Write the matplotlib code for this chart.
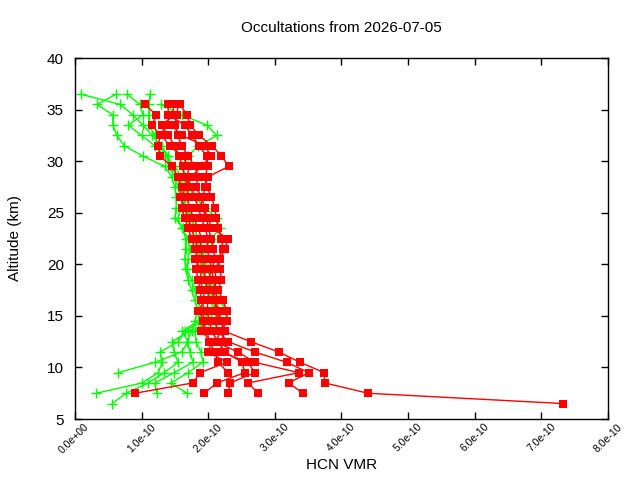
import numpy as np
import matplotlib
matplotlib.use("Agg")
import matplotlib.pyplot as plt
from matplotlib.ticker import FuncFormatter
from matplotlib.transforms import ScaledTranslation

plt.rcParams['font.family'] = ['Liberation Sans', 'DejaVu Sans']

nan = np.nan
# Altitudes (km) for green profiles (36.5 -> 6.5) and red profiles (35.5 -> 6.5)
alt_green = np.arange(36.5, 6.0, -1.0)
alt_red = np.arange(35.5, 6.0, -1.0)

# HCN VMR values in units of 1e-10
green_1 = [0.09, 0.68, 0.87, 1.02, 1.16, 1.30, 1.40,
           1.45, 1.55, 1.60, 1.62, 1.65, 1.70, 1.75, 1.80, 1.85, 1.88, 1.90, 1.95, 2.00, 2.05, 2.10, 2.00,
           1.80, 1.82, 1.89, 1.92, 1.70, 1.44, 1.68, nan]
green_2 = [0.62, 0.33, 0.57, 0.57, 0.63, 0.74, 1.02,
           1.35, 1.45, 1.50, 1.52, 1.52, 1.50, 1.62, 1.66, 1.66, 1.65, 1.66, 1.70, 1.75, 1.80, 1.85, 1.80,
           1.75, 1.68, 1.73, 1.77, 1.49, 1.20, 1.23, nan]
green_3 = [0.78, 0.98, 1.02, 0.80, 1.00, 1.20, 1.35,
           1.50, 1.60, 1.70, 1.80, 1.95, 2.13, 2.18, 2.05, 1.95, 1.90, 1.92, 1.95, 2.05, 2.20, 2.25, 2.10,
           1.70, 1.46, 1.49, 1.55, 1.34, 1.10, 0.77, 0.56]
green_4 = [1.13, 1.11, 1.11, 1.11, 1.20, 1.25, 1.40,
           1.40, 1.50, 1.55, 1.60, 1.70, 1.75, 1.80, 1.85, 1.90, 1.95, 2.00, 2.05, 2.10, 2.15, 2.05, 1.90,
           1.65, 1.55, 1.28, 1.31, 1.25, 1.01, 0.32, nan]
green_5 = [nan, 1.29, 1.60, 1.98, 2.13, 1.85, 1.70,
           1.60, 1.65, 1.68, 1.70, 1.60, 1.55, 1.60, 1.70, 1.72, 1.70, 1.68, 1.75, 1.80, 1.85, 1.90, 1.85,
           1.61, 1.70, 1.60, 1.20, 0.65, nan, nan, nan]

red_1 = [1.50, 1.45, 1.35, 1.30, 1.42, 1.60,
         1.72, 1.68, 1.75, 1.80, 1.85, 1.90, 1.95, 2.00, 1.98, 2.02, 2.05, 2.00, 2.05, 2.10, 2.15, 2.20,
         2.25, 2.64, 3.06, 3.38, 3.74, 3.75, 4.40, 7.33]
red_2 = [1.05, 1.22, 1.16, 1.28, 1.25, 1.28,
         1.45, 1.55, 1.60, 1.58, 1.65, 1.70, 1.75, 1.80, 1.85, 1.80, 1.90, 1.88, 1.92, 1.95, 1.85, 1.95,
         1.90, 2.05, 2.00, 2.28, 1.88, 1.77, 0.90, nan]
red_3 = [1.55, 1.53, 1.50, 1.55, 1.60, 1.70,
         1.80, 1.85, 1.82, 1.90, 1.95, 1.98, 2.00, 2.05, 2.08, 2.10, 2.05, 2.08, 2.12, 2.05, 2.20, 2.10,
         2.15, 2.30, 2.70, 3.18, 3.51, 3.21, 3.42, nan]
red_4 = [1.40, 1.40, 1.65, 1.76, 1.86, 1.98,
         2.00, 1.95, 1.98, 2.05, 2.10, 2.12, 2.15, 2.20, 2.22, 2.15, 2.18, 2.20, 2.15, 2.22, 2.28, 2.28,
         2.20, 2.10, 2.45, 2.70, 3.36, 2.60, 2.75, nan]
red_5 = [1.58, 1.68, 1.73, 1.86, 2.06, 2.20,
         2.31, 2.00, 1.95, 1.92, 1.88, 2.00, 2.05, 2.30, 2.25, 2.18, 2.10, 2.12, 2.10, 2.15, 2.08, 2.18,
         2.25, 2.20, 2.20, 2.60, 2.70, 2.33, 2.30, nan]
red_6 = [nan, 1.50, 1.30, 1.40, 1.50, 1.56,
         1.62, 1.65, 1.70, 1.68, 1.72, 1.78, 1.85, 1.90, 1.88, 1.92, 1.95, 1.95, 2.00, 2.00, 1.98, 2.02,
         2.05, 2.15, 2.25, 2.51, 2.55, 2.13, 1.94, nan]
red_7 = [nan, nan, 1.45, 1.60, 1.95, 2.04,
         1.90, 1.75, 1.65, 1.62, 1.60, 1.65, 1.70, 1.75, 1.80, 1.85, 1.82, 1.85, 1.88, 1.90, 1.95, 1.92,
         1.98, 2.02, 2.10, 2.15, 2.30, nan, nan, nan]

greens = [green_1, green_2, green_3, green_4, green_5]
reds = [red_1, red_2, red_3, red_4, red_5, red_6, red_7]

x_ticks = np.arange(0, 9) * 1e-10
y_ticks = np.arange(5, 41, 5)

fig = plt.figure(figsize=(6.4, 4.8), dpi=100)
ax = fig.add_axes([0.117, 0.127, 0.833, 0.752])

for g in greens:
    ax.plot(np.array(g) * 1e-10, alt_green, color='#00ff00', lw=1.0,
            marker='+', markersize=7, markeredgewidth=1.0)
for r in reds:
    ax.plot(np.array(r) * 1e-10, alt_red, color='#ff0000', lw=1.0,
            marker='s', markersize=6.2, markeredgewidth=0, markerfacecolor='#ff0000')

ax.set_xlim(0, 8e-10)
ax.set_ylim(5, 40)
ax.set_xticks(x_ticks)
ax.set_yticks(y_ticks)
ax.xaxis.set_major_formatter(FuncFormatter(lambda v, p: '%.1e' % v))
ax.tick_params(axis='both', direction='in', top=True, right=True, length=5, width=1)
ax.tick_params(axis='y', labelsize=11, pad=8)
ax.tick_params(axis='x', labelsize=7.5, pad=2)
offset = ScaledTranslation(9 / 100, 0, fig.dpi_scale_trans)
for lab in ax.get_xticklabels():
    lab.set_rotation(45)
    lab.set_ha('right')
    lab.set_va('top')
    lab.set_rotation_mode('anchor')
    lab.set_transform(lab.get_transform() + offset)
for s in ax.spines.values():
    s.set_linewidth(1.0)

ax.set_xlabel('HCN VMR', fontsize=11, labelpad=2)
ax.set_ylabel('Altitude (km)', fontsize=11, labelpad=18)
ax.set_title('Occultations from 2026-07-05', fontsize=11, pad=19)

fig.savefig('out.png', dpi=100)
